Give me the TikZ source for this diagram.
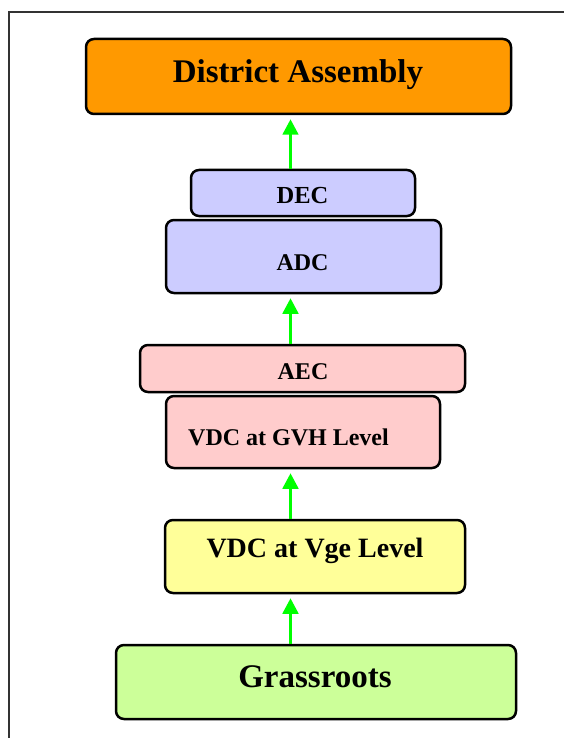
\documentclass[tikz,border=0pt]{standalone}
\usepackage{fontspec}
\setmainfont{Liberation Serif}
\usetikzlibrary{arrows.meta}
\definecolor{daorange}{HTML}{FF9900}
\definecolor{dcblue}{HTML}{CCCCFF}
\definecolor{ecpink}{HTML}{FFCCCC}
\definecolor{vgyellow}{HTML}{FFFF99}
\definecolor{grgreen}{HTML}{CCFF99}
\definecolor{arrgreen}{HTML}{00FF00}
\tikzset{
  box/.style={draw=black, line width=2.5pt, rounded corners=8pt, inner sep=0pt},
  lbl/.style={anchor=base, inner sep=0pt, font=\bfseries},
  arr/.style={draw=arrgreen, line width=3pt, -{Triangle[width=15.6pt,length=15.5pt]}, shorten >=4pt},
  frame/.style={draw=black!80, line width=1.5pt}
}
\begin{document}
\begin{tikzpicture}[x=1pt,y=-1pt]
\useasboundingbox (0,0) rectangle (564,738);
% outer frame
\coordinate (fr1) at (580,12);
\coordinate (fr2) at (9,12);
\coordinate (fr3) at (9,750);
\draw[frame] (fr1) -- (fr2) -- (fr3);
% boxes
\node[box, fill=daorange, minimum width=425pt, minimum height=75pt] (da) at (298.5,76.5) {};
\node[box, fill=dcblue, minimum width=224pt, minimum height=46pt] (dec) at (303,193) {};
\node[box, fill=dcblue, minimum width=275pt, minimum height=73pt] (adc) at (303.5,256.5) {};
\node[box, fill=ecpink, minimum width=325pt, minimum height=47pt] (aec) at (302.5,368.5) {};
\node[box, fill=ecpink, minimum width=274pt, minimum height=72pt] (gvh) at (303,432) {};
\node[box, fill=vgyellow, minimum width=300pt, minimum height=73pt] (vge) at (315,556.5) {};
\node[box, fill=grgreen, minimum width=400pt, minimum height=74pt] (gr) at (316,682) {};
% labels
\node[lbl, font=\bfseries\fontsize{33}{38}\selectfont] (daT) at (298,83) {District Assembly};
\node[lbl, font=\bfseries\fontsize{24.5}{28}\selectfont] (decT) at (302.5,204) {DEC};
\node[lbl, font=\bfseries\fontsize{24}{28}\selectfont] (adcT) at (302.5,270) {ADC};
\node[lbl, font=\bfseries\fontsize{24}{28}\selectfont] (aecT) at (303,379) {AEC};
\node[lbl, font=\bfseries\fontsize{24}{28}\selectfont] (gvhT) at (288.5,445) {VDC at GVH Level};
\node[lbl, font=\bfseries\fontsize{28}{32}\selectfont] (vgeT) at (315,557) {VDC at Vge Level};
\node[lbl, font=\bfseries\fontsize{33}{38}\selectfont] (grT) at (315,687) {Grassroots};
% arrows
\coordinate (ax) at (290.5,0);
\draw[arr] (gr.north -| ax) -- (vge.south -| ax);
\draw[arr] (vge.north -| ax) -- (gvh.south -| ax);
\draw[arr] (aec.north -| ax) -- (adc.south -| ax);
\draw[arr] (dec.north -| ax) -- (da.south -| ax);
\end{tikzpicture}
\end{document}
